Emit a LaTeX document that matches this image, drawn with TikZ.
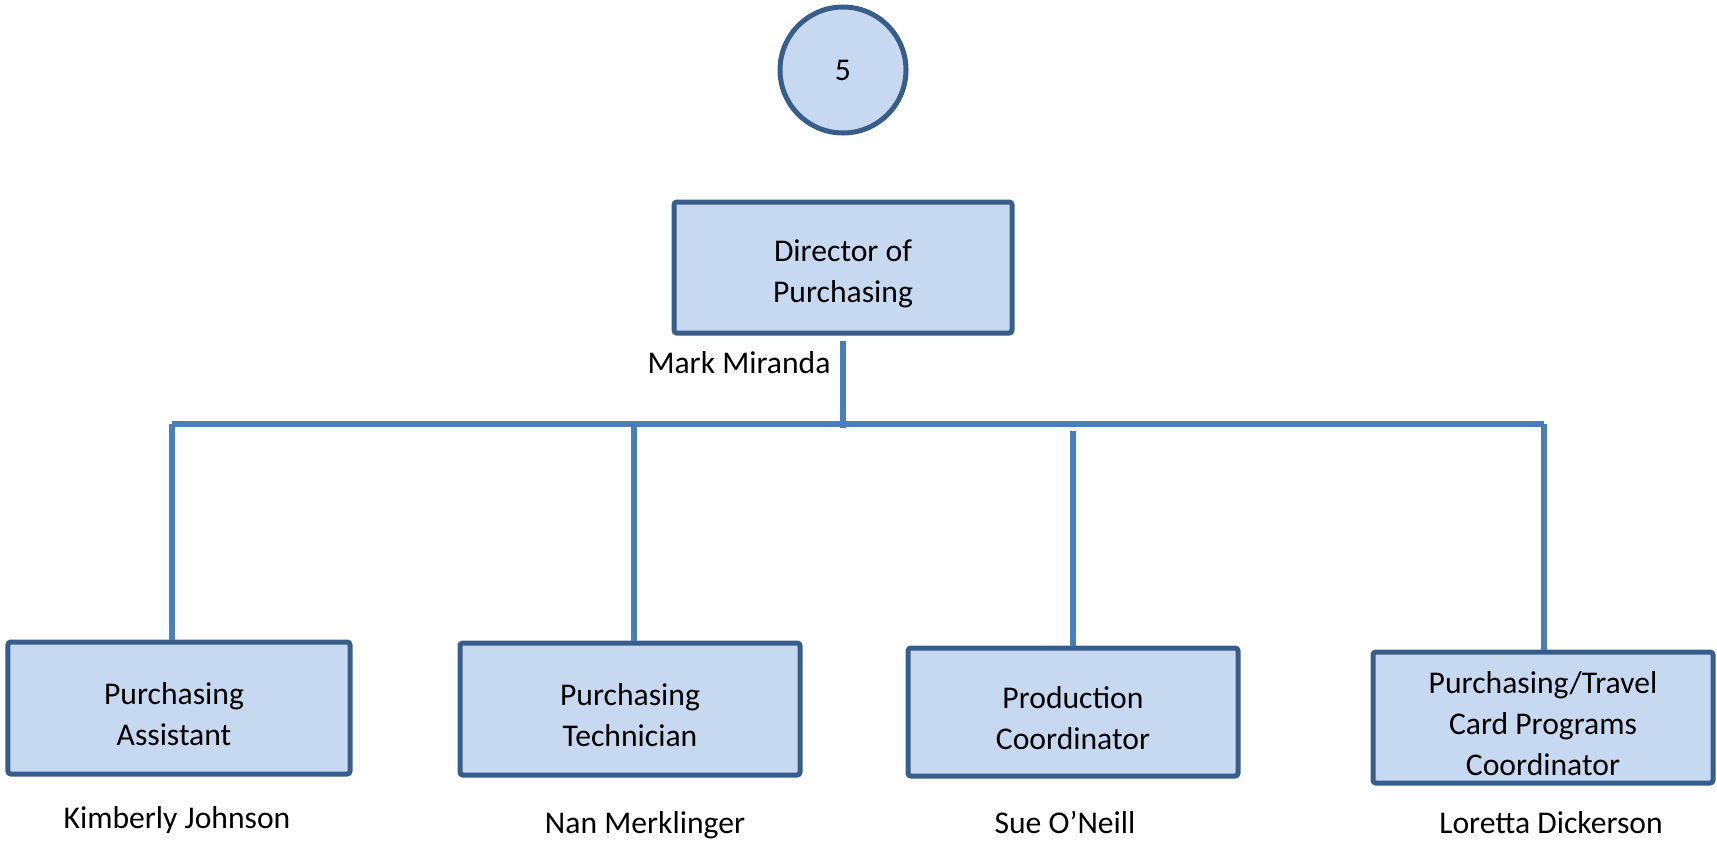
\documentclass[tikz,border=0pt]{standalone}
\usepackage{fontspec}
\setmainfont{Carlito}
\usepackage{tikz}
\usetikzlibrary{positioning, calc}

\definecolor{boxfill}{HTML}{C6D9F1}
\definecolor{boxedge}{HTML}{385D8A}
\definecolor{orgline}{HTML}{4A7EBB}

\tikzset{
    posbox/.style={draw=boxedge, fill=boxfill, line width=0.05cm, rounded corners=0.8pt,
        inner sep=0pt, minimum height=1.31cm},
    boxtext/.style={align=center, inner sep=0pt, yshift=-0.06cm},
    nametag/.style={anchor=base, inner sep=0pt},
    busline/.style={draw=orgline, line width=0.055cm}
}

\begin{document}
\begin{tikzpicture}[font=\fontsize{9}{11.6}\selectfont]
    \useasboundingbox (0,0) rectangle (17.17,-8.43);

    \node (Unit) [draw=boxedge, fill=boxfill, line width=0.05cm, circle, minimum size=1.26cm] at (8.43,-0.70) {5};
    \node (Director) [posbox, minimum width=3.38cm, label={[boxtext]center:Director of\\Purchasing}] at (8.43,-2.675) {};
    \node (Mark) [nametag] at (7.39,-3.73) {Mark Miranda};

    \node (Assistant) [posbox, minimum width=3.42cm, minimum height=1.32cm,
        label={[boxtext, xshift=-0.05cm]center:Purchasing\\Assistant}] at (1.79,-7.08) {};
    \node (Technician) [posbox, minimum width=3.40cm, minimum height=1.32cm,
        label={[boxtext]center:Purchasing\\Technician}] at (6.30,-7.09) {};
    \node (Production) [posbox, minimum width=3.30cm, minimum height=1.28cm,
        label={[boxtext]center:Production\\Coordinator}] at (10.73,-7.12) {};
    \node (CardProg) [posbox, minimum width=3.40cm,
        label={[boxtext]center:Purchasing/Travel\\Card Programs\\Coordinator}] at (15.43,-7.175) {};

    \node (Kimberly) [nametag] at (1.77,-8.28) {Kimberly Johnson};
    \node (Nan) [nametag] at (6.45,-8.33) {Nan Merklinger};
    \node (Sue) [nametag] at (10.65,-8.33) {Sue O’Neill};
    \node (Loretta) [nametag] at (15.51,-8.33) {Loretta Dickerson};

    \coordinate (BusL) at (1.72,-4.24);
    \coordinate (BusR) at (15.44,-4.24);
    \draw [busline] (BusL) -- (BusR);
    \draw [busline] ([yshift=-0.05cm]Director.south) -- ([yshift=-0.04cm]Director.south |- BusL);
    \draw [busline] (BusL) -- (BusL |- Assistant.north);
    \draw [busline] ($(Technician.north |- BusL)+(0.04,0)$) -- ($(Technician.north)+(0.04,0)$);
    \draw [busline] ([yshift=-0.07cm]Production.north |- BusL) -- (Production.north);
    \draw [busline] (BusR) -- (BusR |- CardProg.north);
\end{tikzpicture}
\end{document}
